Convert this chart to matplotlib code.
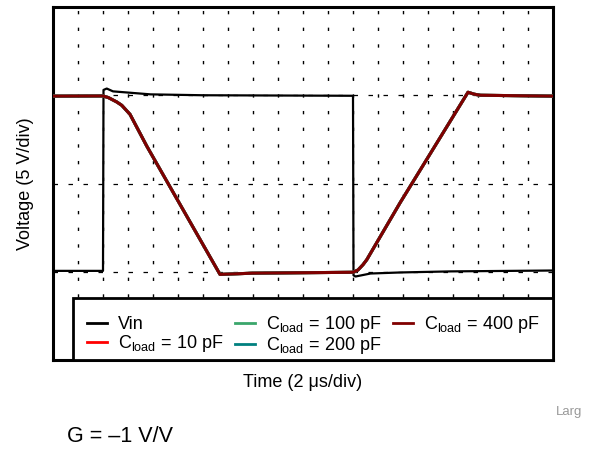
import matplotlib
matplotlib.use("Agg")
import matplotlib.pyplot as plt
from matplotlib.lines import Line2D
from matplotlib.patches import Rectangle

plt.rcParams['font.family'] = ['Liberation Sans', 'DejaVu Sans']
plt.rcParams['mathtext.fontset'] = 'custom'
plt.rcParams['mathtext.rm'] = 'Liberation Sans'
plt.rcParams['mathtext.it'] = 'Liberation Sans:italic'

# ---- data (time in us, voltage in V) ----
vin_t = [0.0, 2.0, 2.02, 2.15, 2.4, 3.9, 6.0, 12.0, 12.02, 12.1, 12.7, 13.9, 15.9, 20.0]
vin_v = [-4.95, -4.95, 5.3, 5.38, 5.22, 5.05, 5.0, 4.97, -5.2, -5.27, -5.1, -5.04, -4.98, -4.93]

out_t = [0.0, 2.0, 2.21, 2.55, 2.75, 3.08, 3.75, 6.68, 8.0, 12.0, 12.2, 12.4, 12.55,
         13.88, 16.6, 16.85, 17.1, 20.0]
out_v = [4.95, 4.96, 4.87, 4.62, 4.43, 3.92, 2.12, -5.15, -5.08, -5.03, -4.9, -4.6, -4.32,
         -1.1, 5.17, 5.06, 5.0, 4.95]

series_labels = ['Vin', r'C$_{\mathrm{load}}$ = 10 pF', r'C$_{\mathrm{load}}$ = 100 pF',
                 r'C$_{\mathrm{load}}$ = 200 pF', r'C$_{\mathrm{load}}$ = 400 pF']
series_colors = ['#000000', '#ff0000', '#3aa66b', '#00807f', '#800000']

x_grid = list(range(1, 20))
y_grid = [-5, 0, 5]

fig = plt.figure(figsize=(5.95, 4.49), dpi=100)
ax = fig.add_axes([53/595, 1-360/449, 500/595, 353/449])
ax.set_xlim(0, 20)
ax.set_ylim(-10, 10)

# grid
for xg in x_grid:
    ax.plot([xg, xg], [10, -10], color='black', lw=1.0,
            linestyle=(9.5, (2.4, 9.6)), zorder=1)
for yg in y_grid:
    ax.plot([0, 20], [yg, yg], color='black', lw=0.9,
            linestyle=(0, (3.6, 8.4)), zorder=1)

# data
ax.plot(vin_t, vin_v, color=series_colors[0], lw=1.6, zorder=3)
for c in series_colors[1:]:
    ax.plot(out_t, out_v, color=c, lw=2.2, zorder=4)

for s in ax.spines.values():
    s.set_linewidth(2.2)
ax.set_xticks([])
ax.set_yticks([])

ax.set_xlabel('Time (2 μs/div)', fontsize=13, labelpad=10)
ax.set_ylabel('Voltage (5 V/div)', fontsize=13, labelpad=14)

# legend box
leg_box = (20/500, 0, 480/500, 62/353)
ax.add_patch(Rectangle((leg_box[0], leg_box[1]), leg_box[2], leg_box[3],
                       transform=ax.transAxes, facecolor='white', edgecolor='black',
                       linewidth=2.0, zorder=9, clip_on=False))

handles = [Line2D([], [], color=c, lw=2) for c in series_colors]
leg = ax.legend(handles, series_labels, ncol=3, loc='center',
                bbox_to_anchor=(20/500, -6/353, 480/500, 62/353), mode='expand',
                borderaxespad=0, fontsize=13, frameon=False,
                handlelength=1.15, handletextpad=0.6, labelspacing=0.0,
                borderpad=0.75, columnspacing=0.4)
leg.set_zorder(10)

fig.text(556/595, 1-412/449, 'Larg', fontsize=9.5, color='#999999', va='center', ha='left')
fig.text(67/595, 1-437/449, 'G = –1 V/V', fontsize=15.5, color='black', va='center', ha='left')

fig.savefig('out.png', dpi=100)
